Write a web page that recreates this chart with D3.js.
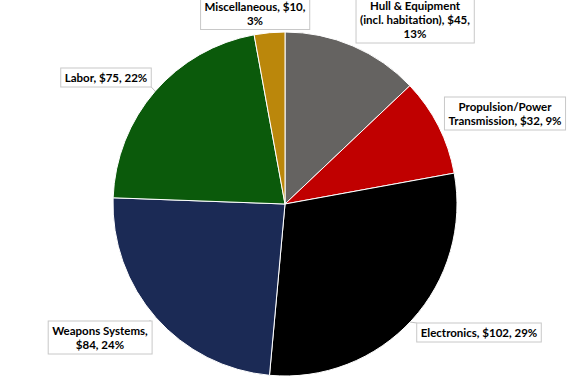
<!DOCTYPE html>
<html lang="en">
<head>
    <meta charset="UTF-8">
    <title>Cost breakdown</title>
    <script src="https://d3js.org/d3.v7.min.js"></script>
    <style>
        body {
            margin: 0;
            background-color: #ffffff;
            overflow: hidden;
        }
        .label text {
            font-family: Lato, "Open Sans", sans-serif;
            font-weight: bold;
            font-size: 11.5px;
            fill: #000000;
        }
    </style>
</head>
<body>
<div id="chart"></div>

<script>
    // categories, values and label lines (clockwise from 12 o'clock)
    const categories = ["Hull & Equipment (incl. habitation)", "Propulsion/Power Transmission", "Electronics", "Weapons Systems", "Labor", "Miscellaneous"];
    const values = [45, 32, 102, 84, 75, 10];
    const percents = ["13%", "9%", "29%", "24%", "22%", "3%"];
    const labelLines = [
        ["Hull & Equipment", "(incl. habitation), $45,", "13%"],
        ["Propulsion/Power", "Transmission, $32, 9%"],
        ["Electronics, $102, 29%"],
        ["Weapons Systems,", "$84, 24%"],
        ["Labor, $75, 22%"],
        ["Miscellaneous, $10,", "3%"]
    ];
    const colors = ["#656361", "#c00000", "#000000", "#1b2a55", "#0b5a0b", "#bb870b"];

    // label placement (box centre) and leader end, Excel-style manual layout
    const labelPos = [
        { x: 415, y: 20, lx: 380, ly: 41 },
        { x: 505, y: 114, lx: 448, ly: 116 },
        { x: 479, y: 333, lx: 410, ly: 322 },
        { x: 100, y: 338, lx: 150, ly: 320 },
        { x: 106, y: 78, lx: 155, ly: 91 },
        { x: 255, y: 13.5, lx: 270, ly: 30 }
    ];

    const W = 568, H = 391;
    const cx = 285, cy = 204, r = 172;

    const svg = d3.select("#chart").append("svg")
        .attr("width", W)
        .attr("height", H);

    const data = categories.map((c, i) => ({ name: c, value: values[i], color: colors[i], lines: labelLines[i], pos: labelPos[i] }));

    const pie = d3.pie().sort(null).value(d => d.value);
    const arc = d3.arc().innerRadius(0).outerRadius(r);

    const g = svg.append("g").attr("transform", `translate(${cx},${cy})`);
    g.selectAll("path")
        .data(pie(data))
        .enter().append("path")
        .attr("d", arc)
        .attr("fill", d => d.data.color)
        .attr("stroke", "#ffffff")
        .attr("stroke-width", 1);

    // labels
    const lineH = 14;
    const labels = svg.selectAll("g.label")
        .data(data)
        .enter().append("g")
        .attr("class", "label");

    labels.each(function(d) {
        const el = d3.select(this);
        const n = d.lines.length;
        const leader = el.append("line")
            .attr("stroke", "#bfbfbf")
            .attr("stroke-width", 1);
        const box = el.append("rect")
            .attr("fill", "#ffffff")
            .attr("stroke", "#c8c8c8")
            .attr("stroke-width", 1);
        const txt = el.append("text")
            .attr("text-anchor", "middle");
        d.lines.forEach((ln, i) => {
            txt.append("tspan")
                .attr("x", d.pos.x)
                .attr("y", d.pos.y + (i - (n - 1) / 2) * lineH + 4)
                .text(ln);
        });
        const bb = txt.node().getBBox();
        const bx = bb.x - 4, by = bb.y - 3, bw = bb.width + 8, bh = bb.height + 6;
        box.attr("x", bx).attr("y", by).attr("width", bw).attr("height", bh);
        // leader from nearest box point to the slice edge point
        const px = Math.max(bx, Math.min(bx + bw, d.pos.lx));
        const py = Math.max(by, Math.min(by + bh, d.pos.ly));
        leader.attr("x1", px).attr("y1", py).attr("x2", d.pos.lx).attr("y2", d.pos.ly);
    });
</script>
</body>
</html>
